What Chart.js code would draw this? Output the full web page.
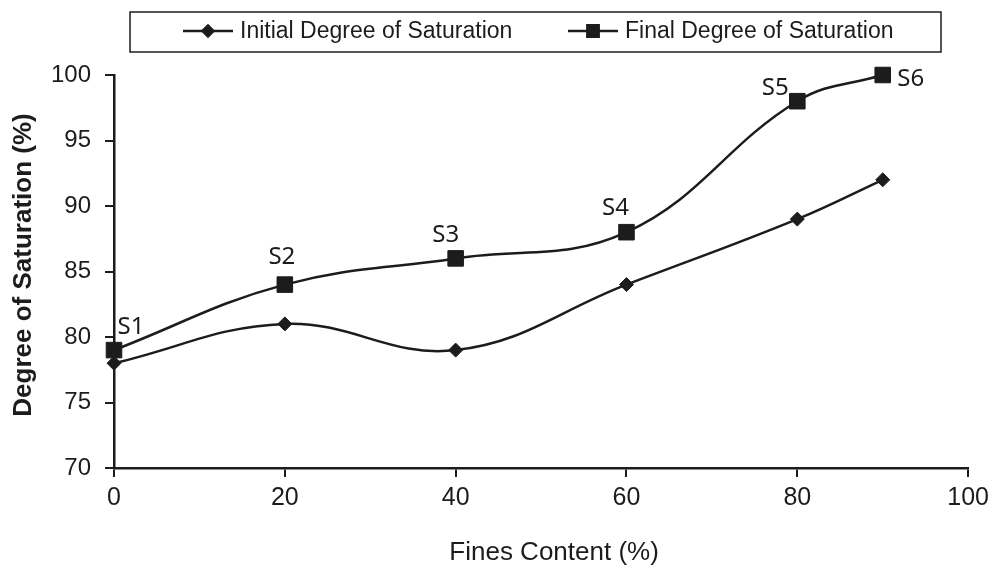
<!DOCTYPE html>
<html>
<head>
<meta charset="utf-8">
<script src="https://cdn.jsdelivr.net/npm/chart.js@4/dist/chart.umd.min.js"></script>
<style>
  html, body { margin: 0; padding: 0; background: #fff; }
  #wrap { width: 995px; height: 572px; }
</style>
</head>
<body>
<div id="wrap"><canvas id="myChart" width="995" height="572"></canvas></div>
<script>
// data
const finesContent = [0, 20, 40, 60, 80, 90];
const initialSaturation = [78, 81, 79, 84, 89, 92];
const finalSaturation = [79, 84, 86, 88, 98, 100];
const sampleNames = ['S1', 'S2', 'S3', 'S4', 'S5', 'S6'];
const xTicks = [0, 20, 40, 60, 80, 100];
const yTicks = [70, 75, 80, 85, 90, 95, 100];

const INK = '#1c1c1c';
const FONT = '"Liberation Sans", Arial, sans-serif';

function toPoints(xs, ys) {
    const pts = [];
    for (let i = 0; i < xs.length; i++) {
        pts.push({x: xs[i], y: ys[i]});
    }
    return pts;
}

// boxed legend, line + marker like the original
const boxLegend = {
    id: 'boxLegend',
    afterDraw(chart, args, opts) {
        const ctx = chart.ctx;
        ctx.save();
        ctx.strokeStyle = INK;
        ctx.lineWidth = 1.5;
        ctx.strokeRect(opts.box[0], opts.box[1], opts.box[2], opts.box[3]);
        ctx.font = opts.font;
        ctx.textBaseline = 'middle';
        ctx.fillStyle = INK;
        chart.data.datasets.forEach((ds, i) => {
            const x0 = opts.items[i];
            const y = opts.y;
            ctx.lineWidth = 2.5;
            ctx.beginPath();
            ctx.moveTo(x0, y);
            ctx.lineTo(x0 + 50, y);
            ctx.stroke();
            Chart.helpers.drawPoint(ctx, {
                pointStyle: ds.pointStyle,
                radius: ds.pointStyle === 'rect' ? 8 : 5.5,
                borderWidth: 1
            }, x0 + 25, y);
            ctx.fillText(ds.label, x0 + 57, y + 1);
        });
        ctx.restore();
    }
};

// S1..S6 tags next to the final saturation points
const sampleTags = {
    id: 'sampleTags',
    afterDatasetsDraw(chart, args, opts) {
        const meta = chart.getDatasetMeta(1);
        const ctx = chart.ctx;
        ctx.save();
        ctx.font = opts.font;
        ctx.fillStyle = INK;
        ctx.textAlign = 'center';
        ctx.textBaseline = 'middle';
        meta.data.forEach((pt, i) => {
            const off = opts.offsets[i];
            ctx.fillText(sampleNames[i], pt.x + off[0], pt.y + off[1]);
        });
        ctx.restore();
    }
};

function loadChart(id) {
    const ctx = document.getElementById(id);
    new Chart(ctx, {
        type: 'line',
        data: {
            datasets: [{
                label: 'Initial Degree of Saturation',
                data: toPoints(finesContent, initialSaturation),
                borderColor: INK,
                backgroundColor: INK,
                borderWidth: 2.5,
                pointStyle: 'rectRot',
                pointRadius: 7,
                pointBorderWidth: 1,
                tension: 0.4,
                clip: false
            }, {
                label: 'Final Degree of Saturation',
                data: toPoints(finesContent, finalSaturation),
                borderColor: INK,
                backgroundColor: INK,
                borderWidth: 2.5,
                pointStyle: 'rect',
                pointRadius: 11,
                pointBorderWidth: 1,
                tension: 0.4,
                clip: false
            }]
        },
        options: {
            responsive: false,
            animation: false,
            layout: {
                padding: {top: 75, right: 26, left: 0, bottom: 0}
            },
            plugins: {
                legend: {display: false},
                tooltip: {enabled: false},
                boxLegend: {
                    box: [130, 12, 811, 40],
                    items: [183, 568],
                    y: 31,
                    font: '23px ' + FONT
                },
                sampleTags: {
                    font: '24px "Noto Sans", "Open Sans", sans-serif',
                    offsets: [[17, -23], [-3, -27], [-10, -23], [-11, -24], [-22, -13], [28, 4]]
                }
            },
            scales: {
                x: {
                    type: 'linear',
                    min: 0,
                    max: 100,
                    afterBuildTicks: (scale) => {
                        scale.ticks = xTicks.map(v => ({value: v}));
                    },
                    afterFit: (scale) => { scale.height = 104; },
                    grid: {drawOnChartArea: false, color: INK, lineWidth: 2, tickLength: 9},
                    border: {color: INK, width: 2.5},
                    ticks: {
                        color: INK,
                        padding: 6,
                        maxRotation: 0,
                        font: {family: FONT, size: 25}
                    },
                    title: {
                        display: true,
                        text: '\u2002\u2002Fines Content (%)',
                        color: INK,
                        padding: {top: 0, bottom: 4},
                        font: {family: FONT, size: 26}
                    }
                },
                y: {
                    min: 70,
                    max: 100,
                    afterBuildTicks: (scale) => {
                        scale.ticks = yTicks.map(v => ({value: v}));
                    },
                    afterFit: (scale) => { scale.width = 114; },
                    grid: {drawOnChartArea: false, color: INK, lineWidth: 2, tickLength: 9},
                    border: {color: INK, width: 2.5},
                    ticks: {
                        color: INK,
                        padding: 14,
                        font: {family: FONT, size: 24}
                    },
                    title: {
                        display: true,
                        text: '\u2002Degree of Saturation (%)',
                        color: INK,
                        padding: {top: 8, bottom: 0},
                        font: {family: FONT, size: 26, weight: 'bold'}
                    }
                }
            }
        },
        plugins: [boxLegend, sampleTags]
    });
}

window.onload = (event) => {
    loadChart('myChart');
};
</script>
</body>
</html>
